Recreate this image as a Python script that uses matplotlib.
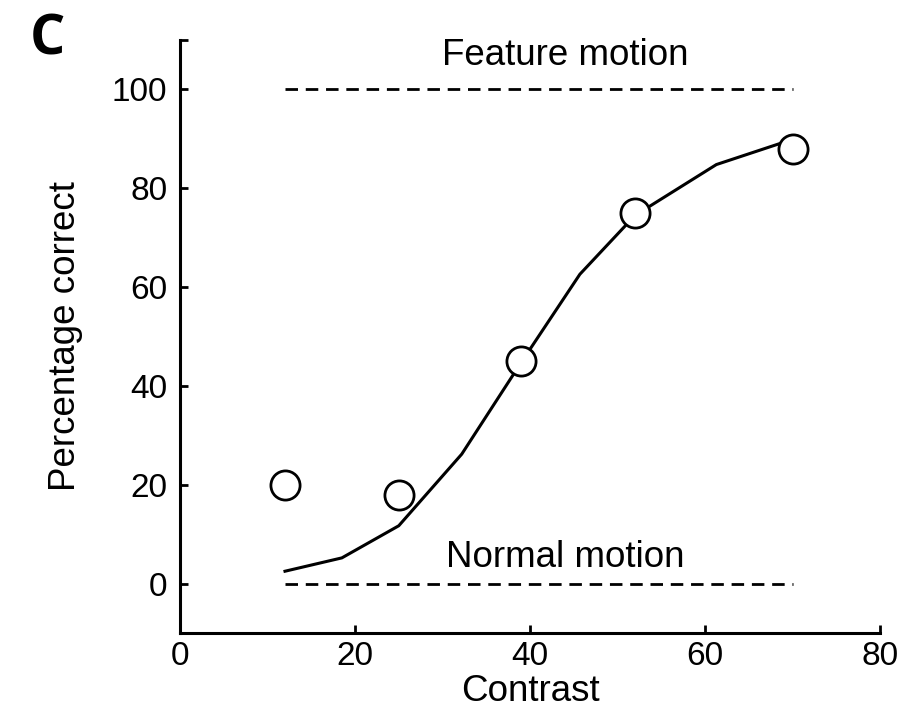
import matplotlib.pyplot as plt

plt.rcParams['font.family'] = ['Liberation Sans', 'DejaVu Sans']

# fitted curve
fit_x = [12, 18.5, 25, 32.2, 38.9, 45.7, 52, 61.3, 70]
fit_y = [2.5, 5.2, 11.7, 26.2, 44.5, 62.6, 74.5, 84.8, 89.9]

# measured points
pt_x = [12, 25, 39, 52, 70]
pt_y = [20, 18, 45, 75, 88]

# reference lines
ref_x = [12, 70]
feature_y = 100
normal_y = 0

fig = plt.figure(figsize=(9.16, 7.28), dpi=100)
ax = fig.add_axes([0.1965, 0.1305, 0.7642, 0.8145])

ax.plot(fit_x, fit_y, color='black', lw=2.2, solid_joinstyle='miter')
ax.plot(pt_x, pt_y, 'o', mfc='white', mec='black', mew=2, ms=21, zorder=3)
ax.plot(ref_x, [feature_y, feature_y], color='black', lw=2, dashes=(4.5, 2.8))
ax.plot(ref_x, [normal_y, normal_y], color='black', lw=2, dashes=(4.5, 2.8))

ax.text(44, 105, 'Feature motion', ha='center', va='baseline', fontsize=26.5)
ax.text(44, 3.4, 'Normal motion', ha='center', va='baseline', fontsize=26.5)

ax.set_xlim(0, 80)
ax.set_ylim(-10, 110)
ax.set_xticks([0, 20, 40, 60, 80])
ax.set_yticks([0, 20, 40, 60, 80, 100])
ax.set_yticks([110], minor=True)
ax.tick_params(direction='in', length=6, width=2, labelsize=24)
ax.tick_params(axis='y', pad=9)
ax.tick_params(axis='x', pad=6)
ax.tick_params(which='minor', direction='in', length=6, width=2)
ax.spines['top'].set_visible(False)
ax.spines['right'].set_visible(False)
for s in ['left', 'bottom']:
    ax.spines[s].set_linewidth(2.2)

ax.set_xlabel('Contrast', fontsize=26.5, labelpad=1)
ax.set_ylabel('Percentage correct', fontsize=26.5, labelpad=21)

fig.text(0.052, 0.945, 'C', fontsize=40, fontweight='bold', family='Open Sans',
         ha='center', va='center')

fig.savefig('out.png')
